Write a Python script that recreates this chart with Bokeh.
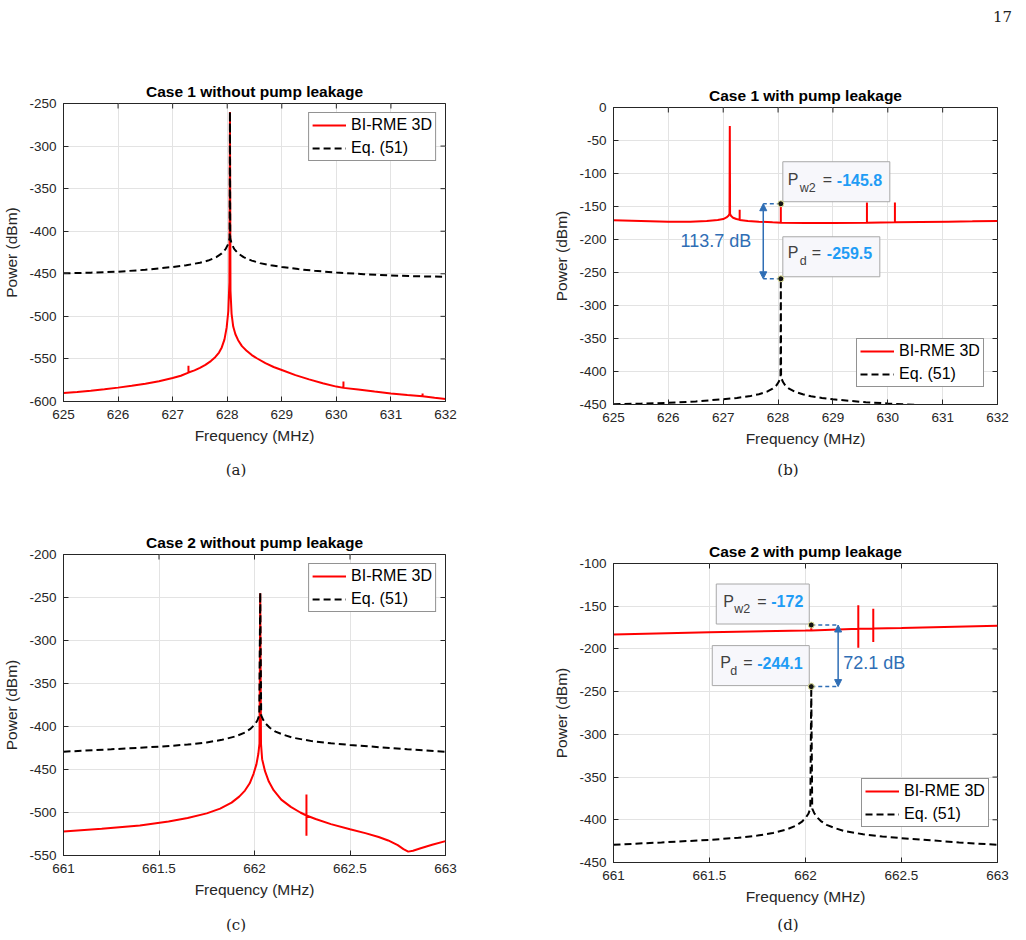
import math
from bokeh.plotting import figure
from bokeh.models import (Range1d, FixedTicker, Legend, LegendItem,
                          Arrow, NormalHead, Label, Div)
from bokeh.layouts import column, row
from bokeh.embed import file_html
from bokeh.resources import INLINE

FONT = "Liberation Sans"
SERIF = "DejaVu Serif"
INK = "#262626"
GRID = "#e3e3e3"
RED = "#ff0000"
TIP_VALUE = "#1f9cf5"
TIP_TEXT = "#404040"
TIP_FILL = "#f7f7fb"
TIP_EDGE = "#a8a8a8"
MEASURE = "#2f6eb5"

# ---------------- Case 1 (around 628 MHz) ----------------
c1_x_ticks = [625, 626, 627, 628, 629, 630, 631, 632]
c1_x_labels = ["625", "626", "627", "628", "629", "630", "631", "632"]
a_y_ticks = [-600, -550, -500, -450, -400, -350, -300, -250]
a_y_labels = ["-600", "-550", "-500", "-450", "-400", "-350", "-300", "-250"]
b_y_ticks = [-450, -400, -350, -300, -250, -200, -150, -100, -50, 0]
b_y_labels = ["-450", "-400", "-350", "-300", "-250", "-200", "-150", "-100", "-50", "0"]

# Eq. (51) for case 1
c1_eq_f = [625.0, 625.5, 626.0, 626.5, 627.0, 627.25, 627.5, 627.65, 627.8, 627.9,
           627.97, 628.01, 628.035, 628.045, 628.05, 628.055, 628.065, 628.09, 628.13,
           628.2, 628.3, 628.45, 628.6, 628.8, 629.0, 629.3, 629.6, 630.0, 630.5,
           631.0, 631.5, 632.0]
c1_eq_p = [-449.5, -448.7, -447.5, -445.3, -442.0, -440.0, -437.0, -434.5, -430.5, -426.0,
           -421.0, -416.0, -411.0, -407.5, -259.5, -407.5, -411.0, -416.0, -421.0,
           -426.0, -430.5, -434.5, -437.5, -440.0, -442.0, -444.5, -446.5, -448.5, -450.5,
           -452.0, -453.0, -453.5]

# BI-RME 3D, case 1 without pump leakage
c1_bi_f = [625.0, 625.25, 625.5, 625.75, 626.0, 626.25, 626.5, 626.75, 627.0, 627.15,
           627.29, 627.29, 627.29, 627.4, 627.5, 627.6, 627.7, 627.78, 627.85, 627.9,
           627.95, 627.99, 628.02, 628.04, 628.05, 628.06, 628.08, 628.11, 628.15, 628.2,
           628.27, 628.35, 628.45, 628.55, 628.7, 628.85, 629.0, 629.25, 629.5, 629.75,
           630.0, 630.13, 630.13, 630.13, 630.4, 630.7, 631.0, 631.3, 631.58, 631.58,
           631.58, 631.8, 632.0]
c1_bi_p = [-590.0, -588.7, -587.3, -585.6, -583.7, -581.6, -579.2, -576.2, -572.5, -569.8,
           -566.0, -558.0, -566.0, -563.5, -560.5, -557.0, -552.5, -548.0, -542.5, -536.5,
           -527.0, -513.0, -494.0, -460.0, -260.0, -470.0, -497.0, -512.0, -521.0, -528.0,
           -535.0, -540.0, -545.5, -549.5, -555.0, -559.5, -563.0, -569.0, -574.0, -578.5,
           -582.5, -584.0, -576.5, -584.0, -585.8, -588.3, -590.5, -592.3, -593.8, -590.5,
           -593.8, -595.5, -597.0]

# BI-RME 3D, case 1 with pump leakage
c1_lk_f = [625.0, 625.5, 626.0, 626.4, 626.7, 626.9, 627.0, 627.06, 627.1, 627.115,
           627.12, 627.125, 627.14, 627.18, 627.24, 627.3, 627.3, 627.3, 627.45, 627.65,
           627.9, 628.05, 628.05, 628.05, 628.5, 629.0, 629.62, 629.62, 629.62, 630.13,
           630.13, 630.13, 630.6, 631.1, 631.56, 631.56, 631.56, 632.0]
c1_lk_p = [-171.0, -172.0, -173.0, -173.0, -172.0, -170.5, -169.0, -166.5, -163.5, -161.0,
           -28.0, -161.0, -164.0, -167.0, -169.0, -170.0, -155.0, -170.5, -172.0, -173.0,
           -174.0, -174.5, -145.8, -174.5, -175.0, -175.0, -174.5, -143.8, -174.5, -174.0,
           -144.0, -174.0, -173.5, -173.0, -172.5, -171.0, -172.5, -172.0]

# data tips of case 1 with pump leakage
c1_tip_f = 628.05
c1_pw2 = -145.8
c1_pd = -259.5
c1_measure_f = 627.73

# ---------------- Case 2 (around 662 MHz) ----------------
c2_x_ticks = [661, 661.5, 662, 662.5, 663]
c2_x_labels = ["661", "661.5", "662", "662.5", "663"]
c_y_ticks = [-550, -500, -450, -400, -350, -300, -250, -200]
c_y_labels = ["-550", "-500", "-450", "-400", "-350", "-300", "-250", "-200"]
d_y_ticks = [-450, -400, -350, -300, -250, -200, -150, -100]
d_y_labels = ["-450", "-400", "-350", "-300", "-250", "-200", "-150", "-100"]

# Eq. (51) for case 2
c2_eq_f = [661.0, 661.25, 661.5, 661.65, 661.75, 661.83, 661.9, 661.95, 661.98, 662.0,
           662.015, 662.025, 662.03, 662.035, 662.045, 662.06, 662.08, 662.11, 662.15,
           662.2, 662.3, 662.4, 662.5, 662.65, 662.8, 663.0]
c2_eq_p = [-429.3, -426.5, -423.5, -421.0, -418.5, -415.5, -411.5, -407.0, -402.5, -398.0,
           -393.0, -387.0, -244.1, -387.0, -392.0, -397.0, -401.5, -406.0, -409.5,
           -413.0, -417.0, -419.5, -421.5, -424.0, -426.5, -429.3]

# BI-RME 3D, case 2 without pump leakage
c2_bi_f = [661.0, 661.2, 661.4, 661.55, 661.65, 661.75, 661.82, 661.88, 661.92, 661.95,
           661.975, 661.995, 662.01, 662.02, 662.026, 662.03, 662.034, 662.04, 662.055,
           662.075, 662.1, 662.14, 662.19, 662.24, 662.272, 662.272, 662.272, 662.272,
           662.32, 662.4, 662.5, 662.58, 662.65, 662.7, 662.75, 662.78, 662.805, 662.83,
           662.87, 662.93, 663.0]
c2_bi_p = [-522.0, -519.0, -515.0, -510.5, -506.5, -501.0, -495.5, -488.5, -481.5, -474.5,
           -466.0, -455.0, -444.0, -432.0, -420.0, -245.0, -420.0, -438.0, -452.0,
           -464.0, -474.0, -485.0, -493.5, -500.0, -503.5, -479.0, -527.0, -503.5,
           -507.5, -513.5, -519.5, -524.0, -528.5, -532.5, -538.0, -542.5, -545.5, -544.5,
           -541.5, -537.5, -533.3]

# BI-RME 3D, case 2 with pump leakage
c2_lk_f = [661.0, 661.5, 662.0, 662.03, 662.03, 662.03, 662.275, 662.275, 662.275, 662.275,
           662.353, 662.353, 662.353, 662.353, 662.5, 663.0]
c2_lk_p = [-183.0, -180.5, -178.5, -178.3, -172.0, -178.3, -176.5, -149.0, -198.5, -176.5,
           -176.0, -153.0, -192.0, -176.0, -175.5, -173.0]

# data tips of case 2 with pump leakage
c2_tip_f = 662.03
c2_pw2 = -172.0
c2_pd = -244.1
c2_measure_f = 662.17


def style_axis(ax, label_standoff, title_standoff):
    ax.axis_line_color = INK
    ax.axis_line_width = 1
    ax.major_tick_line_color = INK
    ax.major_tick_in = 5
    ax.major_tick_out = 0
    ax.minor_tick_line_color = None
    ax.major_label_text_font = FONT
    ax.major_label_text_color = INK
    ax.major_label_text_font_size = "13.5px"
    ax.major_label_standoff = label_standoff
    ax.axis_label_text_font = FONT
    ax.axis_label_text_font_size = "15.5px"
    ax.axis_label_text_font_style = "normal"
    ax.axis_label_text_color = INK
    ax.axis_label_standoff = title_standoff


def make_panel(width, height, borders, xr, yr, xt, xl, yt, yl, title):
    left, right, top, bottom = borders
    p = figure(width=width, height=height, x_range=Range1d(*xr), y_range=Range1d(*yr),
               output_backend="svg", toolbar_location=None,
               min_border_left=left, min_border_right=right,
               min_border_top=top, min_border_bottom=bottom,
               x_axis_label="Frequency (MHz)", y_axis_label="Power (dBm)",
               background_fill_color="white", border_fill_color="white")
    p.outline_line_color = INK
    p.outline_line_width = 1

    xticker = FixedTicker(ticks=xt)
    yticker = FixedTicker(ticks=yt)
    p.xaxis.ticker = xticker
    p.yaxis.ticker = yticker
    p.xaxis.major_label_overrides = dict(zip(xt, xl))
    p.yaxis.major_label_overrides = dict(zip(yt, yl))
    p.xgrid.ticker = xticker
    p.ygrid.ticker = yticker
    p.grid.grid_line_color = GRID
    p.grid.grid_line_width = 1

    style_axis(p.xaxis[0], 8, 5)
    style_axis(p.yaxis[0], 7, 6)

    # inward tick marks on the top and right edges of the box
    # (half of each dash lies outside the frame and is clipped away)
    p.scatter(xt, [yr[1]] * len(xt), marker="dash", angle=math.pi / 2, size=10,
              line_color=INK, line_width=1)
    p.scatter([xr[1]] * len(yt), yt, marker="dash", size=10,
              line_color=INK, line_width=1)

    p.title.text = title
    p.title.align = "center"
    p.title.text_font = FONT
    p.title.text_font_size = "15.5px"
    p.title.text_font_style = "bold"
    p.title.text_color = "#000000"
    p.title.standoff = 7
    return p


def caption(text, width, height, center_x, pad_top):
    html = (f'<div style="position:relative;width:{2 * center_x}px;text-align:center;'
            f'padding-top:{pad_top}px;font-family:\'{SERIF}\';font-size:15px;'
            f'line-height:18px;color:#222;">{text}</div>')
    return Div(text=html, width=width, height=height, margin=0)


def draw_series(p, bi_f, bi_p, eq_f, eq_p, legend_loc):
    r_bi = p.line(bi_f, bi_p, line_color=RED, line_width=2)
    r_eq = p.line(eq_f, eq_p, line_color="#000000", line_width=2, line_dash="7 4")
    legend = Legend(items=[LegendItem(label="BI-RME 3D", renderers=[r_bi]),
                           LegendItem(label="Eq. (51)", renderers=[r_eq])],
                    location=legend_loc,
                    label_text_font=FONT, label_text_font_size="16px",
                    label_text_color="#000000",
                    glyph_width=34, glyph_height=18, label_height=18,
                    label_standoff=5, spacing=5, padding=3, margin=9,
                    border_line_color=INK, border_line_width=1,
                    background_fill_color="white", background_fill_alpha=1.0)
    p.add_layout(legend)


def data_tip(p, scale, x, y, sym, sub, value, box, xoffs, yoffs):
    sx, sy = scale
    bx, by, bw, bh = box
    p.quad(left=[x + bx / sx], right=[x + (bx + bw) / sx],
           bottom=[y + by / sy], top=[y + (by + bh) / sy],
           fill_color=TIP_FILL, line_color=TIP_EDGE, line_width=1)
    o_sym, o_sub, o_eq, o_val = xoffs
    v_sym, v_sub = yoffs
    common = dict(x=x, y=y, text_font=FONT, text_baseline="middle", text_align="left")
    p.add_layout(Label(x_offset=o_sym, y_offset=v_sym, text=sym, text_font_size="16px",
                       text_color=TIP_TEXT, **common))
    p.add_layout(Label(x_offset=o_sub, y_offset=v_sub, text=sub, text_font_size="12.5px",
                       text_color=TIP_TEXT, **common))
    p.add_layout(Label(x_offset=o_eq, y_offset=v_sym, text="=", text_font_size="16px",
                       text_color=TIP_TEXT, **common))
    p.add_layout(Label(x_offset=o_val, y_offset=v_sym, text=value, text_font_size="16px",
                       text_font_style="bold", text_color=TIP_VALUE, **common))


def measure(p, x_tip, x_arrow, y_hi, y_lo, text_dx, text_dy, align):
    for yv in (y_hi, y_lo):
        p.line([x_tip, x_arrow], [yv, yv], line_color=MEASURE, line_width=1.5, line_dash="4 3")
    p.add_layout(Arrow(x_start=x_arrow, y_start=y_hi, x_end=x_arrow, y_end=y_lo,
                       line_color=MEASURE, line_width=1.5,
                       start=NormalHead(size=7, fill_color=MEASURE, line_color=MEASURE),
                       end=NormalHead(size=7, fill_color=MEASURE, line_color=MEASURE)))
    p.add_layout(Label(x=x_arrow, y=(y_hi + y_lo) / 2, x_offset=text_dx, y_offset=text_dy,
                       text=f"{y_hi - y_lo:.1f} dB", text_font=FONT, text_font_size="18px",
                       text_color=MEASURE, text_align=align, text_baseline="middle"))


def tip_dots(p, x, ys):
    p.scatter([x] * len(ys), ys, size=6, fill_color="#151515",
              line_color="#e6e69a", line_width=1)


# ---------------- panels ----------------
pa = make_panel(540, 391, (61, 95, 43, 50), (625, 632), (-600, -250),
                c1_x_ticks, c1_x_labels, a_y_ticks, a_y_labels,
                "Case 1 without pump leakage")
draw_series(pa, c1_bi_f, c1_bi_p, c1_eq_f, c1_eq_p, "top_right")

pb = make_panel(486, 394, (73, 29, 47, 50), (625, 632), (-450, 0),
                c1_x_ticks, c1_x_labels, b_y_ticks, b_y_labels,
                "Case 1 with pump leakage")
draw_series(pb, c1_lk_f, c1_lk_p, c1_eq_f, c1_eq_p, (243, 17))
b_scale = (384 / 7.0, 297 / 450.0)
measure(pb, c1_tip_f, c1_measure_f, c1_pw2, c1_pd, -12, 0, "right")
data_tip(pb, b_scale, c1_tip_f, c1_pw2, "P", "w2", f"{c1_pw2:.1f}",
         (2, 2, 107, 40), (7, 19, 42, 56), (24, 16))
data_tip(pb, b_scale, c1_tip_f, c1_pd, "P", "d", f"{c1_pd:.1f}",
         (2, 2, 97, 40), (7, 19, 31, 46), (26, 18))
tip_dots(pb, c1_tip_f, [c1_pw2, c1_pd])

pc = make_panel(540, 385, (59, 95, 34, 50), (661, 663), (-550, -200),
                c2_x_ticks, c2_x_labels, c_y_ticks, c_y_labels,
                "Case 2 without pump leakage")
draw_series(pc, c2_bi_f, c2_bi_p, c2_eq_f, c2_eq_p, "top_right")

pd_ = make_panel(486, 392, (73, 29, 43, 50), (661, 663), (-450, -100),
                 c2_x_ticks, c2_x_labels, d_y_ticks, d_y_labels,
                 "Case 2 with pump leakage")
draw_series(pd_, c2_lk_f, c2_lk_p, c2_eq_f, c2_eq_p, (248, 35))
d_scale = (384 / 2.0, 299 / 350.0)
measure(pd_, c2_tip_f, c2_measure_f, c2_pw2, c2_pd, 5, -7, "left")
data_tip(pd_, d_scale, c2_tip_f, c2_pw2, "P", "w2", f"{c2_pw2:g}",
         (-95, 1, 93, 40), (-88, -77, -54, -40), (24, 16))
data_tip(pd_, d_scale, c2_tip_f, c2_pd, "P", "d", f"{c2_pd:.1f}",
         (-99, 1, 97, 40), (-91, -81, -68, -54), (24, 16))
tip_dots(pd_, c2_tip_f, [c2_pw2, c2_pd])

cap_a = caption("(a)", 540, 69, 236, 10)
cap_b = caption("(b)", 486, 66, 248, 7)
cap_c = caption("(c)", 540, 35, 236, 11)
cap_d = caption("(d)", 486, 28, 248, 4)

page_no = Div(text='<div style="width:1012px;text-align:right;padding-top:7px;'
                   'font-family:\'DejaVu Serif\';font-size:15px;color:#222;">17</div>',
              width=1026, height=60, margin=0)

# left and right columns are stacked separately so each panel keeps its own frame
left_col = column(pa, cap_a, pc, cap_c)
right_col = column(pb, cap_b, pd_, cap_d)
layout = column(page_no, row(left_col, right_col))
open("out.html", "w").write(file_html(layout, INLINE))
